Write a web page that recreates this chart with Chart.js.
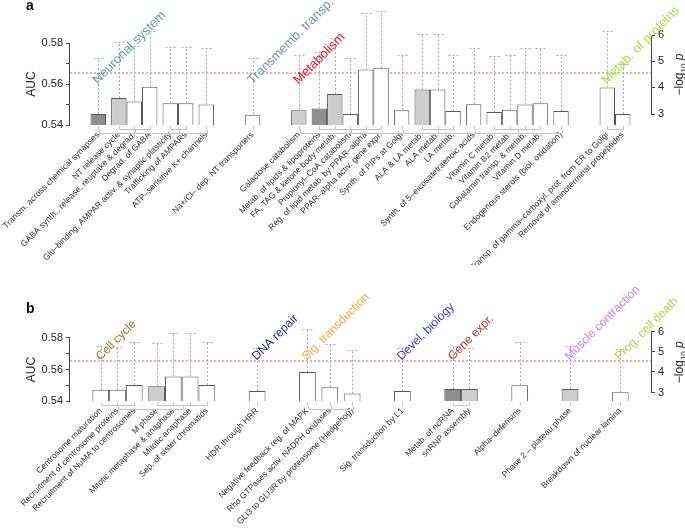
<!DOCTYPE html>
<html>
<head>
<meta charset="utf-8">
<script src="https://cdn.jsdelivr.net/npm/chart.js@4.4.1/dist/chart.umd.min.js"></script>
<style>
  html, body { margin: 0; padding: 0; background: #fff; }
  #wrap { position: relative; width: 685px; height: 531px; background: #fff; }
  #wrap canvas { position: absolute; left: 0; }
  #panelA { top: 0; }
  #panelB { top: 265px; }
</style>
</head>
<body>
<div id="wrap">
  <canvas id="panelA" width="685" height="265"></canvas>
  <canvas id="panelB" width="685" height="266"></canvas>
</div>
<script>
const FONT = "'Liberation Sans', Arial, Helvetica, sans-serif";

// ---- panel a ----
const pathwaysA = [
    'Transm. across chemical synapses',
    'NT release cycle',
    'GABA synth., release, reuptake & degrad.',
    'Degrad. of GABA',
    'Glu\u2013binding, AMPAR activ. & synaptic plasticity',
    'Trafficking of AMPARs',
    'ATP\u2013sensitive K+ channels',
    'Na+/Cl\u2013 dep. NT transporters',
    'Galactose catabolism',
    'Metab. of lipids & lipoproteins',
    'FA, TAG & ketone body metab.',
    'Propionyl\u2013CoA catabolism',
    'Reg. of lipid metab. by PPAR\u2013alpha',
    'PPAR\u2013alpha activ. gene expr.',
    'Synth. of PIPs at Golgi',
    'ALA & LA metab.',
    'ALA metab.',
    'LA metab.',
    'Synth. of 5\u2013eicosatetraenoic acids',
    'Vitamin C metab.',
    'Vitamin B2 metab.',
    'Cobalamin transp. & metab.',
    'Vitamin D metab.',
    'Endogenous sterols (biol. oxidation)',
    'Transp. of gamma\u2013carboxyl. prot. from ER to Golgi',
    'Removal of aminoterminal propeptides'
];
const aucA = [0.5454, 0.5532, 0.5515, 0.5587, 0.5506, 0.5506, 0.5500, 0.5450,
    0.5472, 0.5481, 0.5551, 0.5454, 0.5671, 0.5680, 0.5472, 0.5573, 0.5573, 0.5469,
    0.5502, 0.5463, 0.5475, 0.5500, 0.5506, 0.5469, 0.5583, 0.5454];
const nullA = [0.5729, 0.5808, 0.5787, 0.5862, 0.5782, 0.5782, 0.5775, 0.5726,
    0.5744, 0.5755, 0.5825, 0.5726, 0.5946, 0.5955, 0.5744, 0.5846, 0.5846, 0.5741,
    0.5775, 0.5736, 0.5744, 0.5775, 0.5778, 0.5741, 0.5859, 0.5700];
const shadeA = [2, 1, 0, 0, 0, 0, 0, 0, 1, 2, 1, 0, 0, 0, 0, 1, 0, 0, 0, 0, 0, 0, 0, 0, 0, 0];
const groupA = [
    'Neuronal system', 'Neuronal system', 'Neuronal system', 'Neuronal system',
    'Neuronal system', 'Neuronal system', 'Neuronal system',
    'Transmemb. transp.',
    'Metabolism', 'Metabolism', 'Metabolism', 'Metabolism', 'Metabolism', 'Metabolism',
    'Metabolism', 'Metabolism', 'Metabolism', 'Metabolism', 'Metabolism', 'Metabolism',
    'Metabolism', 'Metabolism', 'Metabolism', 'Metabolism',
    'Metab. of proteins', 'Metab. of proteins'
];
const clusterA = [1, 2, 2, 2, 3, 3, 4, 5, 6, 7, 7, 7, 7, 7, 8, 9, 9, 9, 10, 11, 11, 11, 11, 12, 13, 13];

// ---- panel b ----
const pathwaysB = [
    'Centrosome maturation',
    'Recruitment of centrosome proteins',
    'Recruitment of NuMA to centrosomes',
    'M phase',
    'Mitotic metaphase & anaphase',
    'Mitotic anaphase',
    'Sep. of sister chromatids',
    'HDR through HRR',
    'Negative feedback reg. of MAPK',
    'Rho GTPases activ. NADPH oxidases',
    'GLI3 to GLI3R by proteasome (Hedgehog)',
    'Sig. transduction by L1',
    'Metab. of ncRNA',
    'snRNP assembly',
    'Alpha\u2013defensins',
    'Phase 2 \u2013 plateau phase',
    'Breakdown of nuclear lamina'
];
const aucB = [0.5472, 0.5472, 0.5502, 0.5493, 0.5555, 0.5555, 0.5502, 0.5463, 0.5584,
    0.5487, 0.5447, 0.5463, 0.5476, 0.5476, 0.5500, 0.5476, 0.5455];
const nullB = [0.5747, 0.5743, 0.5777, 0.5768, 0.5832, 0.5834, 0.5775, 0.5739, 0.5860,
    0.5764, 0.5722, 0.5739, 0.5747, 0.5739, 0.5775, 0.5749, 0.5730];
const shadeB = [0, 0, 0, 1, 0, 0, 0, 0, 0, 0, 0, 0, 2, 1, 0, 1, 0];
const groupB = [
    'Cell cycle', 'Cell cycle', 'Cell cycle', 'Cell cycle', 'Cell cycle', 'Cell cycle', 'Cell cycle',
    'DNA repair',
    'Sig. transduction', 'Sig. transduction', 'Sig. transduction',
    'Devel. biology',
    'Gene expr.', 'Gene expr.',
    '',
    'Muscle contraction',
    'Prog. cell death'
];
const clusterB = [1, 1, 1, 2, 2, 2, 2, 3, 4, 5, 6, 7, 8, 8, 9, 10, 11];

// axes
const aucTicks = [0.54, 0.55, 0.56, 0.57, 0.58];
const aucLabelled = [0.54, 0.56, 0.58];
const logpTicks = [3, 4, 5, 6];
const logpAuc = [0.5453, 0.5585, 0.5712, 0.5840];   // AUC level of each -log10 p tick
const cutoffAuc = 0.5655;

const groupColours = {
    'Neuronal system': '#56a0a0',
    'Transmemb. transp.': '#6f8fc8',
    'Metabolism': '#e8141e',
    'Metab. of proteins': '#a6e24a',
    'Cell cycle': '#8c7a32',
    'DNA repair': '#1e1e8c',
    'Sig. transduction': '#f2a93a',
    'Devel. biology': '#2f2fd8',
    'Gene expr.': '#a83232',
    'Muscle contraction': '#c87cf0',
    'Prog. cell death': '#b2d044'
};
const shadeColours = ['#ffffff', '#cdcdcd', '#8e8e8e'];

// spread bars over category slots: touching inside a cluster, small gap between clusters,
// wide gap between top-level groups
function buildSlots(labels, groups, clusters) {
    const slotLabels = [];
    const slotBar = [];
    const pad = () => { slotLabels.push(''); slotBar.push(-1); };
    for (let k = 0; k < 5; k++) pad();
    labels.forEach((lab, i) => {
        if (i > 0) {
            let step = 3;
            if (groups[i] !== groups[i - 1]) step = 9;
            else if (clusters[i] !== clusters[i - 1]) step = 4;
            for (let k = 1; k < step; k++) pad();
        }
        slotLabels.push(lab);
        slotBar.push(i);
    });
    for (let k = 0; k < 5; k++) pad();
    return { slotLabels, slotBar };
}

function makePanel(canvasId, p) {
    const { slotLabels, slotBar } = buildSlots(p.labels, p.groups, p.clusters);
    const barSlot = [];
    slotBar.forEach((b, s) => { if (b >= 0) barSlot[b] = s; });

    const extras = {
        id: 'extras',
        beforeDatasetsDraw(chart) {
            const { ctx, chartArea, scales: { y } } = chart;
            const yc = Math.round(y.getPixelForValue(cutoffAuc));
            ctx.save();
            ctx.strokeStyle = '#f38080';
            ctx.lineWidth = 1.3;
            ctx.setLineDash([2, 2]);
            ctx.beginPath();
            ctx.moveTo(chartArea.left, yc);
            ctx.lineTo(chartArea.right, yc);
            ctx.stroke();
            ctx.restore();
        },
        afterDatasetsDraw(chart) {
            const { ctx, chartArea, scales: { y } } = chart;
            const meta = chart.getDatasetMeta(0);
            const xOf = i => Math.round(meta.data[barSlot[i]].x) + 0.5;
            const bottom = chartArea.bottom;
            ctx.save();

            // whiskers (null upper bound)
            ctx.strokeStyle = '#a8a8a8';
            ctx.lineWidth = 1;
            ctx.setLineDash([2, 2]);
            p.nulls.forEach((v, i) => {
                const x = xOf(i);
                const yt = Math.round(y.getPixelForValue(v)) + 0.5;
                const yb = y.getPixelForValue(p.auc[i]);
                ctx.beginPath();
                ctx.moveTo(x, yb);
                ctx.lineTo(x, yt);
                ctx.moveTo(x - 5, yt);
                ctx.lineTo(x + 5, yt);
                ctx.stroke();
            });
            ctx.setLineDash([]);

            // hierarchy brackets under the bars
            ctx.strokeStyle = '#c4c4c4';
            const y1 = bottom + 4.5, y2 = bottom + 8.5;
            ctx.beginPath();
            p.auc.forEach((v, i) => { ctx.moveTo(xOf(i), bottom + 1); ctx.lineTo(xOf(i), y1); });
            const clusterMid = {};
            const clusterList = [];
            p.clusters.forEach((c, i) => {
                if (!clusterMid[c]) { clusterMid[c] = { first: i, last: i, group: p.groups[i] }; clusterList.push(c); }
                clusterMid[c].last = i;
            });
            clusterList.forEach(c => {
                const cm = clusterMid[c];
                ctx.moveTo(xOf(cm.first), y1);
                ctx.lineTo(xOf(cm.last), y1);
                cm.mid = Math.round((xOf(cm.first) + xOf(cm.last)) / 2) + 0.5;
            });
            const groupNames = [...new Set(p.groups)];
            groupNames.forEach(g => {
                const cs = clusterList.filter(c => clusterMid[c].group === g);
                if (cs.length < 2) return;
                cs.forEach(c => { ctx.moveTo(clusterMid[c].mid, y1); ctx.lineTo(clusterMid[c].mid, y2); });
                ctx.moveTo(clusterMid[cs[0]].mid, y2);
                ctx.lineTo(clusterMid[cs[cs.length - 1]].mid, y2);
            });
            ctx.stroke();

            // R-style axis lines
            ctx.strokeStyle = '#444';
            ctx.beginPath();
            const lx = Math.round(chartArea.left) - 0.5;
            ctx.moveTo(lx, y.getPixelForValue(aucTicks[0]));
            ctx.lineTo(lx, y.getPixelForValue(aucTicks[aucTicks.length - 1]));
            const rx = Math.round(chartArea.right) + 0.5;
            ctx.moveTo(rx, y.getPixelForValue(logpAuc[0]));
            ctx.lineTo(rx, y.getPixelForValue(logpAuc[logpAuc.length - 1]));
            ctx.stroke();

            // group names
            ctx.textAlign = 'left';
            ctx.textBaseline = 'alphabetic';
            ctx.font = p.groupFont + 'px ' + FONT;
            groupNames.forEach(g => {
                if (!g) return;
                const i = p.groups.indexOf(g);
                ctx.save();
                ctx.translate(xOf(i) - 1, y.getPixelForValue(p.labelAuc));
                ctx.rotate(-Math.PI / 4);
                ctx.fillStyle = groupColours[g];
                ctx.fillText(g, 0, 0);
                ctx.restore();
            });

            // axis titles
            ctx.fillStyle = '#222';
            ctx.font = '12px ' + FONT;
            ctx.textAlign = 'center';
            ctx.save();
            ctx.translate(35, (y.getPixelForValue(0.54) + y.getPixelForValue(0.58)) / 2);
            ctx.rotate(-Math.PI / 2);
            ctx.fillText('AUC', 0, 0);
            ctx.restore();

            ctx.save();
            ctx.translate(683, (y.getPixelForValue(logpAuc[0]) + y.getPixelForValue(logpAuc[3])) / 2);
            ctx.rotate(-Math.PI / 2);
            ctx.textAlign = 'left';
            const parts = [
                { t: '\u2212log', f: '12px ' + FONT, dy: 0 },
                { t: '10', f: '8px ' + FONT, dy: 3 },
                { t: ' p', f: 'italic 12px ' + FONT, dy: 0 }
            ];
            let total = 0;
            parts.forEach(s => { ctx.font = s.f; s.w = ctx.measureText(s.t).width; total += s.w; });
            let cx = -total / 2;
            parts.forEach(s => { ctx.font = s.f; ctx.fillText(s.t, cx, s.dy); cx += s.w; });
            ctx.restore();

            // panel letter
            ctx.font = 'bold 14px ' + FONT;
            ctx.textAlign = 'left';
            ctx.fillStyle = '#111';
            ctx.fillText(p.letter, 26, p.letterY);
            ctx.restore();
        }
    };

    return new Chart(document.getElementById(canvasId), {
        type: 'bar',
        data: {
            labels: slotLabels,
            datasets: [{
                data: slotBar.map(i => (i < 0 ? null : p.auc[i])),
                backgroundColor: slotBar.map(i => (i < 0 ? 'rgba(0,0,0,0)' : shadeColours[p.shade[i]])),
                borderColor: '#555',
                borderWidth: 1,
                barPercentage: 3,
                categoryPercentage: 1
            }]
        },
        options: {
            responsive: false,
            animation: false,
            layout: { padding: { top: p.top, left: 0, right: 0, bottom: 0 } },
            plugins: { legend: { display: false }, tooltip: { enabled: false } },
            scales: {
                x: {
                    grid: { display: false, drawTicks: false },
                    border: { display: false },
                    ticks: {
                        autoSkip: false, minRotation: 45, maxRotation: 45, padding: 5,
                        font: { family: FONT, size: 8.5 }, color: '#2a2a2a'
                    },
                    afterFit(s) { s.height = p.xHeight; }
                },
                y: {
                    position: 'left', min: 0.54, max: p.max, bounds: 'data',
                    grid: { drawOnChartArea: false, tickLength: 4, color: '#444' },
                    border: { display: false },
                    ticks: {
                        padding: 3, font: { family: FONT, size: 11 }, color: '#222',
                        callback: v => (aucLabelled.some(a => Math.abs(a - v) < 1e-9) ? v.toFixed(2) : '')
                    },
                    afterBuildTicks(s) { s.ticks = aucTicks.map(v => ({ value: v })); },
                    afterFit(s) { s.width = 70; }
                },
                y1: {
                    position: 'right', min: 0.54, max: p.max, bounds: 'data',
                    grid: { drawOnChartArea: false, tickLength: 4, color: '#444' },
                    border: { display: false },
                    ticks: {
                        padding: 3, font: { family: FONT, size: 11 }, color: '#222',
                        callback: (v, i) => String(logpTicks[i])
                    },
                    afterBuildTicks(s) { s.ticks = logpAuc.map(v => ({ value: v })); },
                    afterFit(s) { s.width = 34; }
                }
            }
        },
        plugins: [extras]
    });
}

makePanel('panelA', {
    labels: pathwaysA, auc: aucA, nulls: nullA, shade: shadeA, groups: groupA, clusters: clusterA,
    top: 2, max: 0.59642, xHeight: 140, labelAuc: 0.5597, groupFont: 13, letter: 'a', letterY: 10
});
makePanel('panelB', {
    labels: pathwaysB, auc: aucB, nulls: nullB, shade: shadeB, groups: groupB, clusters: clusterB,
    top: 58, max: 0.58952, xHeight: 130, labelAuc: 0.5655, groupFont: 12, letter: 'b', letterY: 48
});
</script>
</body>
</html>
